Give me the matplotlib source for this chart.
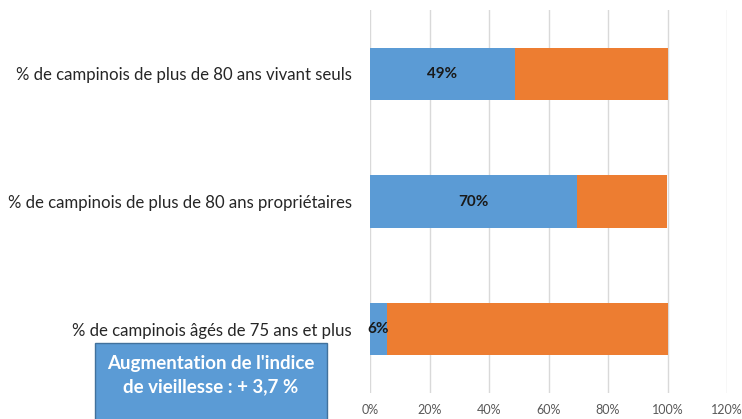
import matplotlib
matplotlib.use("Agg")
import matplotlib.pyplot as plt
from matplotlib.patches import Rectangle

categories = ["% de campinois de plus de 80 ans vivant seuls",
              "% de campinois de plus de 80 ans propriétaires",
              "% de campinois âgés de 75 ans et plus"]
blue_vals = [48.7, 69.6, 5.7]
orange_vals = [51.3, 30.4, 94.3]
blue_labels = ["49%", "70%", "6%"]
xticks = [0, 20, 40, 60, 80, 100, 120]
xticklabels = ["0%", "20%", "40%", "60%", "80%", "100%", "120%"]
box_text = "Augmentation de l'indice\nde vieillesse : + 3,7 %"

plt.rcParams['font.family'] = ['Lato', 'DejaVu Sans']

W, H = 742, 419
fig = plt.figure(figsize=(W/100, H/100), dpi=100)
ax = fig.add_axes([370/W, 1-393/H, (727-370)/W, (393-10)/H])

ypos = list(range(len(categories)))
ax.barh(ypos, blue_vals, height=0.41, color="#5B9BD5", zorder=3)
ax.barh(ypos, orange_vals, left=blue_vals, height=0.41, color="#ED7D31", zorder=3)
for y, v, lab in zip(ypos, blue_vals, blue_labels):
    ax.text(v/2, y, lab, ha="center", va="center", fontsize=11,
            fontweight="bold", color="#1a1a1a", zorder=4)

ax.set_ylim(2.5, -0.5)
ax.set_xlim(0, 120)
ax.set_xticks(xticks)
ax.set_xticklabels(xticklabels, fontsize=9, color="#595959")
ax.set_yticks(ypos)
ax.set_yticklabels(categories, fontsize=12.1, color="#262626")
ax.tick_params(axis="both", length=0)
ax.tick_params(axis="x", pad=8)
ax.tick_params(axis="y", pad=13)
ax.grid(axis="x", color="#D9D9D9", linewidth=1, zorder=0)
for s in ax.spines.values():
    s.set_visible(False)

rect = Rectangle((95/W, -0.05), 232/W, (419-343)/H + 0.05, transform=fig.transFigure,
                 facecolor="#5B9BD5", edgecolor="#41719C", linewidth=1, zorder=5)
fig.patches.append(rect)
fig.text(211/W, 1-375/H, box_text, ha="center", va="center", fontsize=13.5,
         fontweight="bold", color="white", linespacing=1.45, zorder=6)

fig.savefig("out.png", dpi=100)
